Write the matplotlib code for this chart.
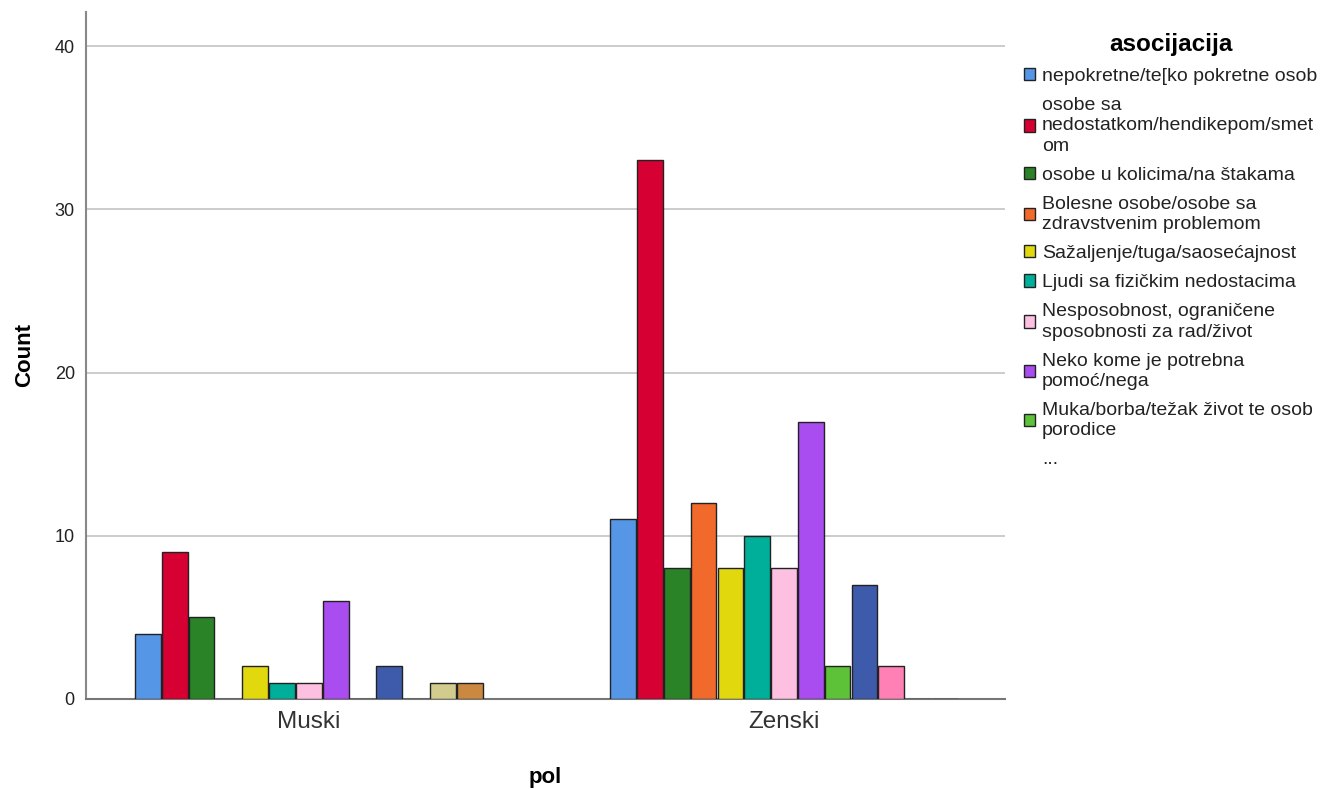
import matplotlib
matplotlib.use("Agg")
import matplotlib.pyplot as plt
import numpy as np
from matplotlib.patches import Patch

plt.rcParams["font.family"] = ["Liberation Sans", "DejaVu Sans"]

groups = ["Muski", "Zenski"]
categories = [
    "nepokretne/te[ko pokretne osob",
    "osobe sa\nnedostatkom/hendikepom/smet\nom",
    "osobe u kolicima/na štakama",
    "Bolesne osobe/osobe sa\nzdravstvenim problemom",
    "Sažaljenje/tuga/saosećajnost",
    "Ljudi sa fizičkim nedostacima",
    "Nesposobnost, ograničene\nsposobnosti za rad/život",
    "Neko kome je potrebna\npomoć/nega",
    "Muka/borba/težak život te osob\nporodice",
    "cat10", "cat11", "cat12", "cat13",
]
muski = [4, 9, 5, 0, 2, 1, 1, 6, 0, 2, 0, 1, 1]
zenski = [11, 33, 8, 12, 8, 10, 8, 17, 2, 7, 2, 0, 0]
colors = ["#5596E6", "#D60032", "#2B8327", "#F2692C", "#E2D80E", "#00AF9A",
          "#FDC0E1", "#A94CF0", "#5EC238", "#3E5AAB", "#FF80B5", "#D1CB8E",
          "#CB8841"]
shown = 9  # legend shows the first nine, then "..."

fig = plt.figure(figsize=(13.35, 7.89), dpi=100)
ax = fig.add_axes([0.0644, 0.1141, 0.6884, 0.8707])

n = len(categories)
width = 0.0564
x = np.arange(len(groups))
for i in range(n):
    offs = (i - (n - 1) / 2) * width
    vals = [muski[i], zenski[i]]
    ax.bar(x + offs, vals, width=width * 0.96, color=colors[i],
           edgecolor="#222222", linewidth=1.0, zorder=3)

ax.set_xlim(-0.469, 1.465)
ax.set_ylim(0, 42.1)
ax.set_yticks([0, 10, 20, 30, 40])
ax.yaxis.grid(True, color="#C8C8C8", linewidth=1.3, zorder=0)
ax.set_xticks(x)
ax.set_xticklabels(groups, fontsize=17.5, color="#333333")
ax.tick_params(axis="both", length=0)
ax.tick_params(axis="y", labelsize=13, pad=8, labelcolor="#222222")
ax.tick_params(axis="x", pad=9)
for s in ["top", "right"]:
    ax.spines[s].set_visible(False)
ax.spines["left"].set_color("#888888")
ax.spines["left"].set_linewidth(1.5)
ax.spines["bottom"].set_color("#777777")
ax.spines["bottom"].set_linewidth(1.5)

ax.set_ylabel("Count", fontsize=16, fontweight="bold", labelpad=14)
ax.set_xlabel("pol", fontsize=16, fontweight="bold", labelpad=24)

handles = [Patch(facecolor=colors[i], edgecolor="#222222", linewidth=1.0)
           for i in range(shown)]
handles.append(Patch(facecolor="none", edgecolor="none"))
labels = categories[:shown] + ["..."]
leg = fig.legend(handles, labels, loc="upper left", bbox_to_anchor=(0.761, 0.968),
                 frameon=False, fontsize=14, title="asocijacija",
                 title_fontproperties={"size": 17.5, "weight": "bold"},
                 handlelength=0.6, handleheight=0.6, handletextpad=0.35,
                 labelspacing=0.62, borderaxespad=0)
leg._legend_box.align = "center"
for t in leg.get_texts():
    t.set_linespacing(1.25)
    t.set_color("#222222")

fig.savefig("out.png", dpi=100)
